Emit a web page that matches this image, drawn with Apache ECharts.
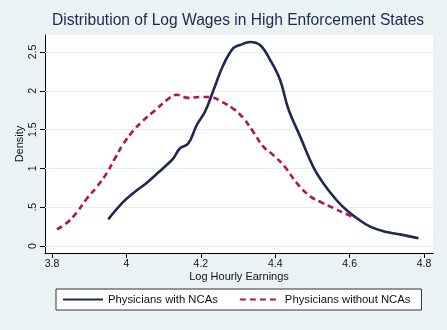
<!DOCTYPE html>
<html><head><meta charset="utf-8">
<script src="https://cdn.jsdelivr.net/npm/echarts@6/dist/echarts.min.js"></script>
<style>html,body{margin:0;padding:0;background:#eaf2f3}#c{width:447px;height:330px}</style>
</head><body><div id="c"></div>
<script>
const xTicks = [3.8, 4.0, 4.2, 4.4, 4.6, 4.8];
const yTicks = [0, 0.5, 1, 1.5, 2, 2.5];
const yTickLabels = ['0', '.5', '1', '1.5', '2', '2.5'];
const withX = [3.951,3.992,4.023,4.055,4.081,4.108,4.126,4.144,4.166,4.189,4.211,4.234,4.260,4.287,4.305,4.332,4.359,4.386,4.413,4.435,4.467,4.502,4.529,4.565,4.592,4.619,4.655,4.700,4.735,4.785];
const withY = [0.344,0.571,0.70,0.816,0.928,1.044,1.13,1.26,1.32,1.56,1.73,2.01,2.33,2.55,2.59,2.63,2.59,2.40,2.14,1.77,1.41,1.02,0.81,0.59,0.46,0.36,0.25,0.18,0.15,0.10];
const withoutX = [3.813,3.840,3.866,3.893,3.920,3.947,3.969,3.992,4.019,4.045,4.077,4.108,4.135,4.166,4.198,4.225,4.256,4.287,4.314,4.341,4.368,4.395,4.426,4.458,4.494,4.525,4.556,4.592,4.619];
const withoutY = [0.215,0.30,0.43,0.61,0.76,0.94,1.13,1.32,1.49,1.62,1.75,1.88,1.95,1.91,1.92,1.92,1.86,1.77,1.65,1.47,1.28,1.17,1.02,0.81,0.64,0.56,0.49,0.41,0.36];
const labelMap = {};
yTicks.forEach((v, i) => labelMap[v.toFixed(2)] = yTickLabels[i]);
const chart = echarts.init(document.getElementById('c'));
const font = 'Liberation Sans, Arial, sans-serif';
chart.setOption({
  backgroundColor: '#eaf2f3',
  animation: false,
  title: {
    text: 'Distribution of Log Wages in High Enforcement States',
    left: 47, top: 8,
    textStyle: {fontFamily: font, fontSize: 15.6, fontWeight: 'normal', color: '#1c2a4e'}
  },
  grid: {left: 45, top: 35, right: 14, bottom: 77, show: true, backgroundColor: '#ffffff', borderWidth: 0},
  xAxis: {
    type: 'value', min: 3.781, max: 4.824,
    name: 'Log Hourly Earnings', nameLocation: 'middle', nameGap: 18, nameMoveOverlap: false,
    nameTextStyle: {fontFamily: font, fontSize: 11, color: '#111'},
    axisLine: {show: true, onZero: false, lineStyle: {color: '#000', width: 1}},
    axisTick: {show: true, length: 5, lineStyle: {color: '#000'}, customValues: xTicks},
    axisLabel: {fontFamily: font, fontSize: 10.5, color: '#111', margin: 6, customValues: xTicks,
      formatter: v => (Math.abs(v - 4) < 1e-6 ? '4' : (+v).toFixed(1))},
    splitLine: {show: false}
  },
  yAxis: {
    type: 'value', min: -0.09, max: 2.72,
    name: 'Density', nameLocation: 'middle', nameGap: 20, nameMoveOverlap: false,
    nameTextStyle: {fontFamily: font, fontSize: 11, color: '#111'},
    axisLine: {show: true, onZero: false, lineStyle: {color: '#000', width: 1}},
    axisTick: {show: true, length: 5, lineStyle: {color: '#000'}, customValues: yTicks},
    axisLabel: {fontFamily: font, fontSize: 10.5, color: '#111', rotate: 90, margin: 6, customValues: yTicks,
      formatter: v => labelMap[(+v).toFixed(2)] ?? ''},
    splitLine: {show: false}
  },
  legend: {
    left: 56, top: 289,
    data: ['Physicians with NCAs', 'Physicians without NCAs'],
    backgroundColor: '#ffffff', borderColor: '#333', borderWidth: 1, borderRadius: 0,
    padding: [5, 11, 5, 6], itemGap: 21, itemWidth: 40, itemHeight: 10,
    itemStyle: {opacity: 0},
    textStyle: {fontFamily: font, fontSize: 11.3, color: '#111'}
  },
  series: [
    {
      name: 'Physicians with NCAs', type: 'line', smooth: 0.4, symbol: 'none',
      data: withX.map((x, i) => [x, withY[i]]),
      lineStyle: {color: '#1c2a4e', width: 2.6}, itemStyle: {color: '#1c2a4e'},
      z: 3,
      markLine: {
        silent: true, symbol: 'none', label: {show: false},
        lineStyle: {color: '#e6eeef', type: 'solid', width: 1},
        data: yTicks.map(v => ({yAxis: v})),
        z: 1
      }
    },
    {
      name: 'Physicians without NCAs', type: 'line', smooth: 0.4, symbol: 'none',
      data: withoutX.map((x, i) => [x, withoutY[i]]),
      lineStyle: {color: '#b5134f', width: 2.6, type: [6, 4]}, itemStyle: {color: '#b5134f'},
      z: 4
    }
  ]
});
</script></body></html>
